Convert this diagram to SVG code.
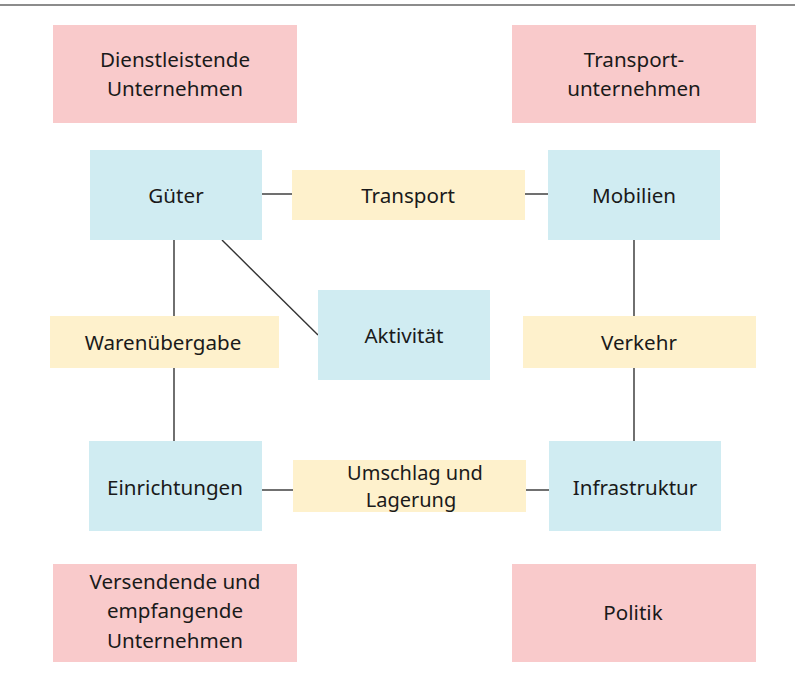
<svg xmlns="http://www.w3.org/2000/svg" width="795" height="681" viewBox="0 0 795 681">
  <style>
    .actor { fill: #f9cacb; }
    .entity { fill: #d0ecf2; }
    .relation { fill: #fef1cc; }
    .link { stroke: #333; stroke-width: 1.4; fill: none; }
    text { font-family: "Noto Sans", "Open Sans", sans-serif; font-size: 20.6px; fill: #1a1a1a; text-anchor: middle; dominant-baseline: central; }
    .tight { font-size: 20px; }
  </style>
  <rect width="795" height="681" fill="#fff"/>
  <line x1="0" y1="5" x2="795" y2="5" stroke="#666" stroke-width="1.6"/>

  <g id="connectors">
    <line class="link" x1="262" y1="194" x2="292" y2="194"/>
    <line class="link" x1="525" y1="194" x2="548" y2="194"/>
    <line class="link" x1="174" y1="240" x2="174" y2="316"/>
    <line class="link" x1="174" y1="368" x2="174" y2="441"/>
    <line class="link" x1="222" y1="240" x2="318" y2="335"/>
    <line class="link" x1="634" y1="240" x2="634" y2="316"/>
    <line class="link" x1="634" y1="368" x2="634" y2="441"/>
    <line class="link" x1="262" y1="490" x2="293" y2="490"/>
    <line class="link" x1="526" y1="490" x2="549" y2="490"/>
  </g>

  <g id="dienstleistende">
    <rect class="actor" x="53" y="25" width="244" height="98"/>
    <text x="175" y="59">Dienstleistende</text>
    <text x="175" y="88">Unternehmen</text>
  </g>
  <g id="transportunternehmen">
    <rect class="actor" x="512" y="25" width="244" height="98"/>
    <text x="634" y="59">Transport-</text>
    <text x="634" y="88">unternehmen</text>
  </g>

  <g id="gueter">
    <rect class="entity" x="90" y="150" width="172" height="90"/>
    <text x="176" y="195">Güter</text>
  </g>
  <g id="transport">
    <rect class="relation" x="292" y="170" width="233" height="50"/>
    <text x="408" y="195">Transport</text>
  </g>
  <g id="mobilien">
    <rect class="entity" x="548" y="150" width="172" height="90"/>
    <text x="634" y="195">Mobilien</text>
  </g>

  <g id="warenuebergabe">
    <rect class="relation" x="50" y="316" width="229" height="52"/>
    <text x="163" y="342">Warenübergabe</text>
  </g>
  <g id="aktivitaet">
    <rect class="entity" x="318" y="290" width="172" height="90"/>
    <text x="404" y="335">Aktivität</text>
  </g>
  <g id="verkehr">
    <rect class="relation" x="523" y="316" width="233" height="52"/>
    <text x="639" y="342">Verkehr</text>
  </g>

  <g id="einrichtungen">
    <rect class="entity" x="89" y="441" width="173" height="90"/>
    <text x="175" y="487">Einrichtungen</text>
  </g>
  <g id="umschlag">
    <rect class="relation" x="293" y="460" width="233" height="52"/>
    <text class="tight" x="415" y="472">Umschlag und</text>
    <text class="tight" x="411" y="499">Lagerung</text>
  </g>
  <g id="infrastruktur">
    <rect class="entity" x="549" y="441" width="172" height="90"/>
    <text x="635" y="487">Infrastruktur</text>
  </g>

  <g id="versendende">
    <rect class="actor" x="53" y="564" width="244" height="98"/>
    <text x="175" y="581">Versendende und</text>
    <text x="175" y="610">empfangende</text>
    <text x="175" y="640">Unternehmen</text>
  </g>
  <g id="politik">
    <rect class="actor" x="512" y="564" width="244" height="98"/>
    <text x="633" y="612">Politik</text>
  </g>
</svg>
